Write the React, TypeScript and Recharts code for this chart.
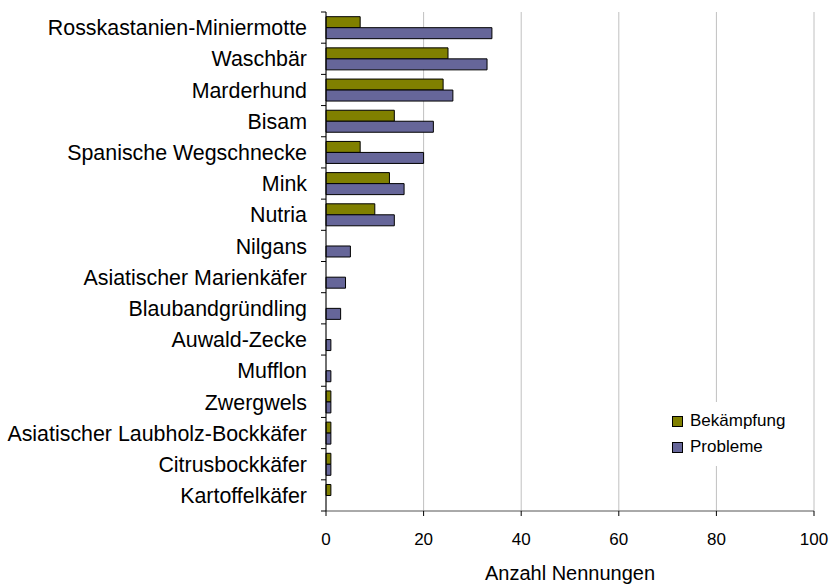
import React from 'react';
import { BarChart, Bar, XAxis, YAxis, CartesianGrid } from 'recharts';

const species = [
  'Rosskastanien-Miniermotte',
  'Waschbär',
  'Marderhund',
  'Bisam',
  'Spanische Wegschnecke',
  'Mink',
  'Nutria',
  'Nilgans',
  'Asiatischer Marienkäfer',
  'Blaubandgründling',
  'Auwald-Zecke',
  'Mufflon',
  'Zwergwels',
  'Asiatischer Laubholz-Bockkäfer',
  'Citrusbockkäfer',
  'Kartoffelkäfer',
];
const bekaempfung = [7, 25, 24, 14, 7, 13, 10, 0, 0, 0, 0, 0, 1, 1, 1, 1];
const probleme = [34, 33, 26, 22, 20, 16, 14, 5, 4, 3, 1, 1, 1, 1, 1, 0];
const xTicks = [0, 20, 40, 60, 80, 100];

const series = [
  { key: 'bekaempfung', label: 'Bekämpfung', color: '#808000' },
  { key: 'probleme', label: 'Probleme', color: '#666699' },
];

const data = species.map((name, i) => ({
  name,
  bekaempfung: bekaempfung[i],
  probleme: probleme[i],
}));

const FONT = '"Liberation Sans", Arial, sans-serif';

function CategoryTick(props: any) {
  const { x, y, payload, index } = props;
  const off = payload.offset || 0;
  const ax = x + 19;
  return (
    <g>
      <text x={x} y={y} dy="0.36em" textAnchor="end" fontSize={21.4} fill="#000" fontFamily={FONT}>
        {payload.value}
      </text>
      <line x1={ax - 5} x2={ax} y1={y - off} y2={y - off} stroke="#000" />
      {index === species.length - 1 && (
        <line x1={ax - 5} x2={ax} y1={y + off} y2={y + off} stroke="#000" />
      )}
    </g>
  );
}

function LegendBox() {
  return (
    <div
      style={{
        position: 'absolute',
        left: 666,
        top: 402,
        width: 135,
        padding: '6px 6px',
        background: '#fff',
        fontFamily: FONT,
      }}
    >
      {series.map(s => (
        <div key={s.key} style={{ display: 'flex', alignItems: 'center', height: 26, fontSize: 17 }}>
          <span
            style={{
              display: 'inline-block',
              width: 9,
              height: 9,
              background: s.color,
              border: '1px solid #000',
              marginRight: 7,
            }}
          />
          {s.label}
        </div>
      ))}
    </div>
  );
}

export default function App() {
  return (
    <div style={{ position: 'absolute', left: 0, top: 0, width: 831, height: 586, background: '#fff' }}>
      <BarChart
        width={831}
        height={586}
        data={data}
        layout="vertical"
        margin={{ top: 12, right: 17, bottom: 0, left: 0 }}
        barCategoryGap="15%"
        barGap={0}
      >
        <CartesianGrid horizontal={false} stroke="#c0c0c0" />
        <XAxis
          type="number"
          domain={[0, 100]}
          ticks={xTicks}
          height={75}
          tickSize={5}
          tickMargin={17}
          axisLine={{ stroke: '#555' }}
          tickLine={{ stroke: '#000' }}
          tick={{ fontSize: 17, fill: '#000', fontFamily: FONT }}
          label={{ value: 'Anzahl Nennungen', position: 'insideBottom', offset: 6, fontSize: 20, fill: '#000', fontFamily: FONT }}
        />
        <XAxis
          xAxisId="top"
          orientation="top"
          type="number"
          domain={[0, 100]}
          height={0}
          tick={false}
          tickLine={false}
          axisLine={{ stroke: '#c0c0c0' }}
        />
        <YAxis
          type="category"
          dataKey="name"
          width={326}
          tickSize={5}
          tickMargin={14}
          tickLine={false}
          axisLine={{ stroke: '#000' }}
          interval={0}
          tick={<CategoryTick />}
        />
        {series.map(s => (
          <Bar
            key={s.key}
            dataKey={s.key}
            name={s.label}
            fill={s.color}
            stroke="#000"
            strokeWidth={1}
            isAnimationActive={false}
          />
        ))}
      </BarChart>
      <LegendBox />
    </div>
  );
}
